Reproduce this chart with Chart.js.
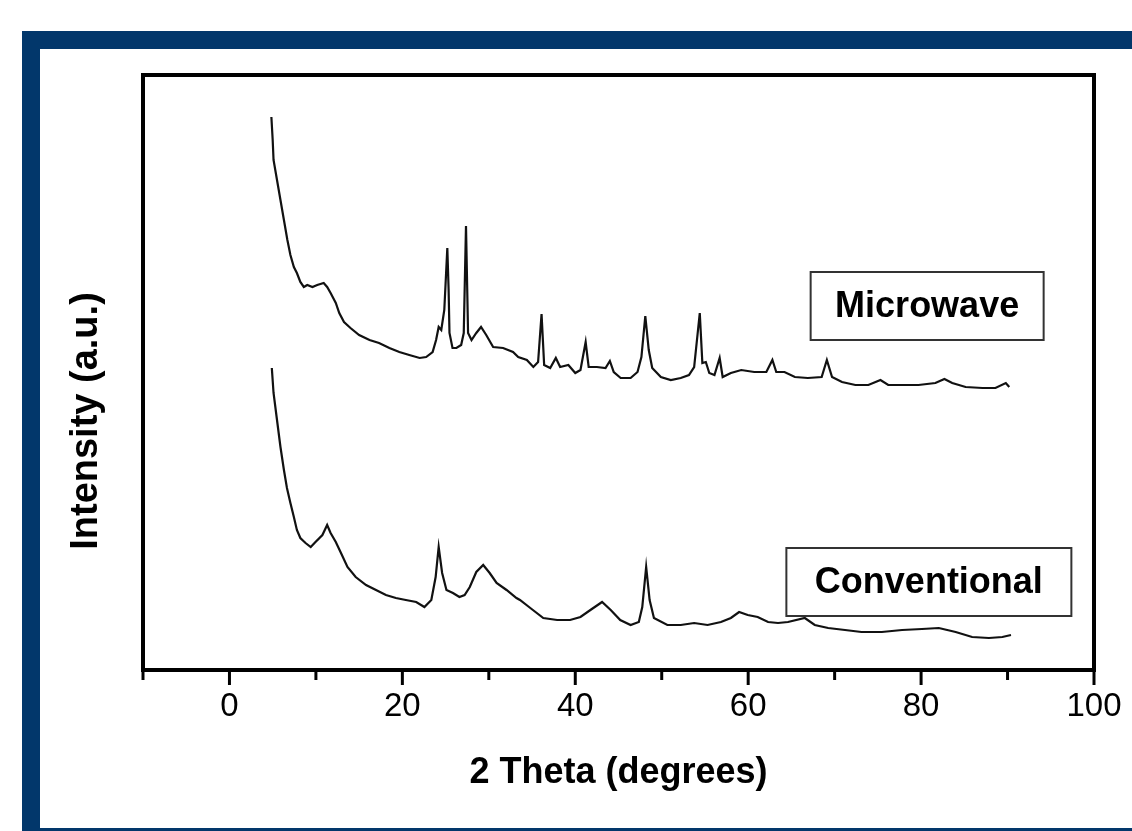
<!DOCTYPE html>
<html>
<head>
<meta charset="utf-8">
<script src="https://cdn.jsdelivr.net/npm/chart.js@4.4.1/dist/chart.umd.min.js"></script>
<style>
    html, body { margin: 0; padding: 0; background: #fff; overflow: hidden; }
    #frame {
        position: absolute; left: 22px; top: 31px; width: 1200px; height: 800px;
        box-sizing: border-box;
        border-top: 18px solid #02376b; border-left: 18px solid #02376b; border-bottom: 3px solid #02376b;
    }
    #xrd { position: absolute; left: 0; top: 0; }
</style>
</head>
<body>
<div id="frame"></div>
<canvas id="xrd" width="1132" height="831"></canvas>
<script>
// 2 theta (deg) / intensity (a.u.)
const microwaveTheta = [4.85, 5.0, 5.1, 5.5, 5.9, 6.3, 6.7, 7.05, 7.45, 7.8, 8.2, 8.6, 9.0, 9.6, 10.15, 10.9, 11.3, 11.7, 12.3, 12.7,
    13.25, 14.0, 15.0, 16.2, 17.3, 18.5, 19.65, 20.8, 22.0, 22.75, 23.5, 23.9, 24.2, 24.5, 24.85, 25.2, 25.35, 25.45, 25.8, 26.25,
    26.8, 27.1, 27.36, 27.6, 28.0, 28.55, 29.1, 29.7, 30.5, 31.65, 32.8, 33.4, 34.4, 35.15, 35.7, 36.1, 36.4, 37.1, 37.75, 38.25,
    39.2, 40.0, 40.6, 41.2, 41.55, 42.5, 43.5, 44.0, 44.45, 45.25, 46.4, 47.2, 47.65, 48.1, 48.5, 48.9, 49.9, 51.05, 52.2, 53.15,
    53.75, 54.4, 54.7, 55.1, 55.5, 56.1, 56.7, 57.05, 58.0, 59.2, 60.7, 62.1, 62.8, 63.25, 64.2, 65.4, 66.9, 68.5, 69.1, 69.7,
    70.85, 72.4, 73.9, 75.3, 76.2, 77.8, 79.7, 81.65, 82.7, 83.6, 85.15, 87.1, 88.6, 89.8, 90.2];
const microwaveIntensity = [553, 530, 510, 490, 470, 450, 430, 415, 403, 397, 388, 383, 385, 383, 385, 387, 383, 377, 367, 357,
    348, 342, 335, 330, 327, 322, 318, 315, 312, 313, 318, 330, 343, 340, 360, 422, 380, 337, 322, 322,
    325, 337, 444, 337, 330, 337, 343, 335, 323, 322, 318, 313, 310, 303, 308, 356, 305, 302, 312, 303,
    305, 297, 300, 328, 303, 303, 302, 309, 298, 292, 292, 298, 313, 354, 320, 302, 293, 290, 292, 295,
    303, 357, 307, 308, 297, 295, 312, 293, 297, 300, 298, 298, 310, 298, 298, 293, 292, 293, 310, 293,
    288, 285, 285, 290, 285, 285, 285, 287, 291, 287, 283, 282, 282, 287, 283];

const conventionalTheta = [4.9, 5.1, 5.5, 5.9, 6.3, 6.65, 7.05, 7.45, 7.8, 8.2, 8.8, 9.4, 9.95, 10.75, 11.3, 11.7, 12.3, 12.9,
    13.65, 14.6, 15.8, 16.95, 18.1, 19.25, 20.4, 21.6, 22.55, 23.35, 23.85, 24.2, 24.6, 25.1, 25.85, 26.6, 27.2, 27.8, 28.55,
    29.35, 30.1, 30.9, 32.05, 33.2, 33.6, 34.8, 36.3, 37.9, 39.4, 40.6, 41.75, 43.1, 44.1, 45.2, 46.4, 47.35, 47.75, 48.2, 48.6,
    49.1, 50.65, 52.2, 53.75, 55.3, 56.85, 58.0, 58.95, 59.95, 61.1, 62.3, 63.45, 64.6, 66.55, 67.7, 69.25, 71.2, 73.1, 75.45,
    77.8, 80.1, 82.05, 84.0, 85.9, 87.85, 89.4, 90.4];
const conventionalIntensity = [302, 277, 250, 223, 200, 182, 167, 153, 140, 132, 127, 123, 128, 135, 145, 137, 128, 117,
    103, 93, 85, 80, 75, 72, 70, 68, 63, 70, 93, 123, 97, 80, 77, 73, 75, 83, 98,
    105, 97, 87, 80, 72, 70, 62, 52, 50, 50, 53, 60, 68, 60, 50, 45, 48, 63, 103, 70,
    52, 45, 45, 47, 45, 48, 52, 58, 55, 53, 48, 47, 48, 52, 45, 42, 40, 38, 38,
    40, 41, 42, 38, 33, 32, 33, 35];

const xTicks = [0, 20, 40, 60, 80, 100];
const xMinorTicks = [-10, 10, 30, 50, 70, 90];

// sample labels, placed in data units
const sampleLabels = [
    { text: 'Microwave', x: 80.7, y: 364, w: 233, h: 68 },
    { text: 'Conventional', x: 80.9, y: 88, w: 285, h: 68 }
];

const FONT = "'Liberation Sans', Arial, sans-serif";

function toPoints(xs, ys) {
    return xs.map((v, i) => ({ x: v, y: ys[i] }));
}

const framePlugin = {
    id: 'frame',
    afterDraw(chart) {
        const { ctx, chartArea: a, scales: { x, y } } = chart;
        ctx.save();
        // box round the plot
        ctx.strokeStyle = '#000';
        ctx.lineWidth = 4;
        ctx.strokeRect(a.left, a.top, a.right - a.left, a.bottom - a.top);

        // tick marks under the axis
        ctx.lineWidth = 3;
        xTicks.forEach(v => {
            const px = x.getPixelForValue(v);
            ctx.beginPath(); ctx.moveTo(px, a.bottom); ctx.lineTo(px, a.bottom + 15); ctx.stroke();
        });
        xMinorTicks.forEach(v => {
            const px = x.getPixelForValue(v);
            ctx.beginPath(); ctx.moveTo(px, a.bottom); ctx.lineTo(px, a.bottom + 10); ctx.stroke();
        });

        // y title
        ctx.fillStyle = '#000';
        ctx.font = 'bold 38px ' + FONT;
        ctx.textAlign = 'center';
        ctx.textBaseline = 'middle';
        ctx.translate(87, 421);
        ctx.rotate(-Math.PI / 2);
        ctx.fillText('Intensity (a.u.)', 0, 0);
        ctx.restore();

        // boxed sample names
        ctx.save();
        sampleLabels.forEach(l => {
            const cx = x.getPixelForValue(l.x);
            const cy = y.getPixelForValue(l.y);
            ctx.fillStyle = '#fff';
            ctx.fillRect(cx - l.w / 2, cy - l.h / 2, l.w, l.h);
            ctx.strokeStyle = '#333';
            ctx.lineWidth = 2;
            ctx.strokeRect(cx - l.w / 2, cy - l.h / 2, l.w, l.h);
            ctx.fillStyle = '#000';
            ctx.font = 'bold 36px ' + FONT;
            ctx.textAlign = 'center';
            ctx.textBaseline = 'middle';
            ctx.fillText(l.text, cx, cy + 1);
        });
        ctx.restore();
    }
};

new Chart(document.getElementById('xrd'), {
    type: 'line',
    data: {
        datasets: [
            {
                label: 'Microwave',
                data: toPoints(microwaveTheta, microwaveIntensity),
                borderColor: '#111',
                borderWidth: 2.2,
                pointRadius: 0,
                tension: 0
            },
            {
                label: 'Conventional',
                data: toPoints(conventionalTheta, conventionalIntensity),
                borderColor: '#111',
                borderWidth: 2.2,
                pointRadius: 0,
                tension: 0
            }
        ]
    },
    options: {
        responsive: false,
        animation: false,
        layout: { padding: { left: 143, right: 38, top: 75, bottom: 0 } },
        plugins: {
            legend: { display: false },
            tooltip: { enabled: false }
        },
        scales: {
            x: {
                type: 'linear',
                min: -10,
                max: 100,
                grid: { display: false, drawTicks: false },
                border: { display: false },
                afterFit: s => { s.height = 161; s.paddingLeft = 0; s.paddingRight = 0; },
                afterBuildTicks: s => { s.ticks = xTicks.map(v => ({ value: v })); },
                ticks: {
                    padding: 17,
                    color: '#000',
                    font: { family: FONT, size: 33 }
                },
                title: {
                    display: true,
                    text: '2 Theta (degrees)',
                    color: '#000',
                    font: { family: FONT, size: 36, weight: 'bold' },
                    padding: { top: 0, bottom: 36 }
                }
            },
            y: {
                display: false,
                min: 0,
                max: 595
            }
        }
    },
    plugins: [framePlugin]
});
</script>
</body>
</html>
